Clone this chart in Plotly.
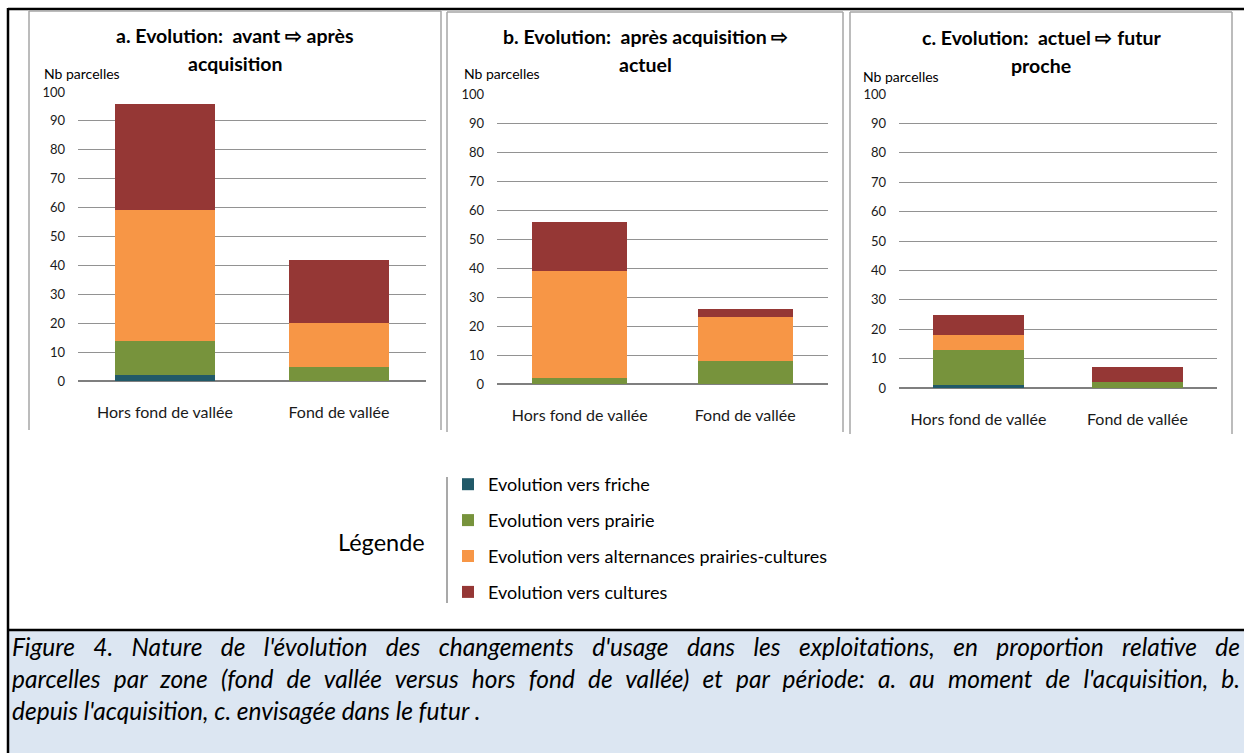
import plotly.graph_objects as go

W, H = 1244, 753

categories = ["Hors fond de vallée", "Fond de vallée"]
series_names = [
    "Evolution vers friche",
    "Evolution vers prairie",
    "Evolution vers alternances prairies-cultures",
    "Evolution vers cultures",
]
series_colors = ["#215968", "#77933C", "#F79646", "#953735"]

# values per panel: [Hors fond de vallée, Fond de vallée]
a_friche = [2, 0]
a_prairie = [12, 5]
a_alternances = [45, 15]
a_cultures = [37, 22]

b_friche = [0, 0]
b_prairie = [2, 8]
b_alternances = [37, 15]
b_cultures = [17, 3]

c_friche = [1, 0]
c_prairie = [12, 2]
c_alternances = [5, 0]
c_cultures = [7, 5]

panel_titles = [
    ("a. Evolution:  avant \u21e8 après", "acquisition"),
    ("b. Evolution:  après acquisition \u21e8", "actuel"),
    ("c. Evolution:  actuel \u21e8 futur", "proche"),
]
y_title = "Nb parcelles"
y_ticks = [0, 10, 20, 30, 40, 50, 60, 70, 80, 90, 100]
legend_title = "Légende"
caption_lines = [
    "Figure 4. Nature de l'évolution des changements d'usage dans les exploitations, en proportion relative de",
    "parcelles par zone (fond de vallée versus hors fond de vallée) et par période: a. au moment de l'acquisition, b.",
    "depuis l'acquisition, c. envisagée dans le futur .",
]

FONT = "Lato, 'Open Sans', sans-serif"
CAP_FONT = "Lato, 'Open Sans', sans-serif"


def X(px):
    return px / W


def Y(py):
    return 1 - py / H


panels = [
    [a_friche, a_prairie, a_alternances, a_cultures],
    [b_friche, b_prairie, b_alternances, b_cultures],
    [c_friche, c_prairie, c_alternances, c_cultures],
]

# plot-area geometry (pixels): x0, x1, y_bottom, y_top
plot_px = [(78, 426, 381, 92), (497, 828, 384, 94), (899, 1217, 388, 94)]
box_px = [(29, 441, 11, 430), (447, 843, 12, 432), (850, 1232, 12, 434)]
title_cx = [235, 645, 1041]
title_y = [(36, 63), (37, 64), (38, 65)]
ytitle_pos = [(42, 73), (462, 73), (861, 76)]

fig = go.Figure()

for p, vals in enumerate(panels):
    suffix = "" if p == 0 else str(p + 1)
    for s, name in enumerate(series_names):
        fig.add_trace(
            go.Bar(
                x=categories,
                y=vals[s],
                name=name,
                marker=dict(color=series_colors[s], line=dict(width=0)),
                xaxis="x" + suffix,
                yaxis="y" + suffix,
                legendgroup=name,
                showlegend=(p == 0),
            )
        )

layout_axes = {}
for p in range(3):
    suffix = "" if p == 0 else str(p + 1)
    x0, x1, yb, yt = plot_px[p]
    layout_axes["xaxis" + suffix] = dict(
        domain=[X(x0), X(x1)],
        anchor="y" + suffix,
        type="category",
        range=[-0.5, 1.5],
        showline=False,
        showgrid=False,
        zeroline=False,
        ticks="",
        tickfont=dict(family=FONT, size=16, color="#1a1a1a"),
        ticklabelstandoff=20,
        automargin=False,
        fixedrange=True,
    )
    layout_axes["yaxis" + suffix] = dict(
        domain=[Y(yb), Y(yt)],
        anchor="x" + suffix,
        range=[0, 100],
        tickvals=y_ticks,
        showline=False,
        showgrid=True,
        gridcolor="#929292",
        gridwidth=1,
        zeroline=True,
        zerolinecolor="#7f7f7f",
        zerolinewidth=2,
        ticks="",
        tickfont=dict(family=FONT, size=13, color="#1a1a1a"),
        ticklabelstandoff=12,
        automargin=False,
        fixedrange=True,
    )

shapes = []
# caption background
shapes.append(dict(type="rect", xref="paper", yref="paper", x0=X(9), x1=X(1244), y0=Y(753), y1=Y(631),
                   fillcolor="#DCE6F2", line=dict(width=0), layer="below"))
# outer black frame
shapes.append(dict(type="line", xref="paper", yref="paper", x0=X(8), x1=X(1244), y0=Y(9), y1=Y(9),
                   line=dict(color="black", width=2.5)))
shapes.append(dict(type="line", xref="paper", yref="paper", x0=X(8), x1=X(8), y0=Y(8), y1=Y(753),
                   line=dict(color="black", width=2.5)))
shapes.append(dict(type="line", xref="paper", yref="paper", x0=X(8), x1=X(1244), y0=Y(630), y1=Y(630),
                   line=dict(color="black", width=2.5)))
# panel frames (gray)
for (bx0, bx1, by0, by1) in box_px:
    for (xa, ya, xb, yb2) in [(bx0, by0, bx1, by0), (bx0, by0, bx0, by1), (bx1, by0, bx1, by1)]:
        shapes.append(dict(type="line", xref="paper", yref="paper", x0=X(xa), x1=X(xb), y0=Y(ya), y1=Y(yb2),
                           line=dict(color="#a6a6a6", width=1.5)))
# legend separator line
shapes.append(dict(type="line", xref="paper", yref="paper", x0=X(447), x1=X(447), y0=Y(477), y1=Y(603),
                   line=dict(color="#8c8c8c", width=1.5)))

annotations = []
for p in range(3):
    l1, l2 = panel_titles[p]
    for txt, yy in zip((l1, l2), title_y[p]):
        annotations.append(dict(text="<b>" + txt + "</b>", xref="paper", yref="paper", x=X(title_cx[p]), y=Y(yy),
                                xanchor="center", yanchor="middle", showarrow=False,
                                font=dict(family=FONT, size=19.5, color="black")))
    tx, ty = ytitle_pos[p]
    annotations.append(dict(text=y_title, xref="paper", yref="paper", x=X(tx), y=Y(ty),
                            xanchor="left", yanchor="middle", showarrow=False,
                            font=dict(family=FONT, size=14, color="black")))

annotations.append(dict(text=legend_title, xref="paper", yref="paper", x=X(381), y=Y(542),
                        xanchor="center", yanchor="middle", showarrow=False,
                        font=dict(family=FONT, size=23.5, color="black")))

# caption: one multi-line text block
annotations.append(dict(text="<br>".join("<i>" + t + "</i>" for t in caption_lines),
                        xref="paper", yref="paper", x=X(10), y=Y(678),
                        xanchor="left", yanchor="middle", align="left", showarrow=False,
                        font=dict(family=CAP_FONT, size=24.5, color="black")))

fig.update_layout(
    width=W,
    height=H,
    margin=dict(l=0, r=0, t=0, b=0, pad=0, autoexpand=False),
    paper_bgcolor="white",
    plot_bgcolor="rgba(0,0,0,0)",
    barmode="stack",
    bargap=0.425,
    showlegend=True,
    legend=dict(
        x=X(448), y=Y(466), xanchor="left", yanchor="top",
        traceorder="grouped", tracegroupgap=9.5,
        font=dict(family=FONT, size=18, color="black"),
        bgcolor="rgba(0,0,0,0)",
    ),
    shapes=shapes,
    annotations=annotations,
    **layout_axes,
)

# justify the first two caption lines (like the original justified paragraph)
post_js = """
document.body.style.margin='0';
document.body.style.overflow='hidden';
var gd = document.getElementById('{plot_id}');
var targets = %s;
gd.querySelectorAll('text.annotation-text tspan.line').forEach(function(t){
  var s = t.textContent;
  targets.forEach(function(pref){
    if (s.indexOf(pref) === 0) {
      var len = t.getComputedTextLength();
      var n = (s.match(/ /g) || []).length;
      var extra = (1228 - len) / n;
      if (extra > 0) { t.style.wordSpacing = extra + 'px'; }
    }
  });
});
""" % ('["Figure 4.", "parcelles par zone"]')

fig.write_html(
    "out.html",
    config={"displayModeBar": False},
    post_script=post_js,
)
